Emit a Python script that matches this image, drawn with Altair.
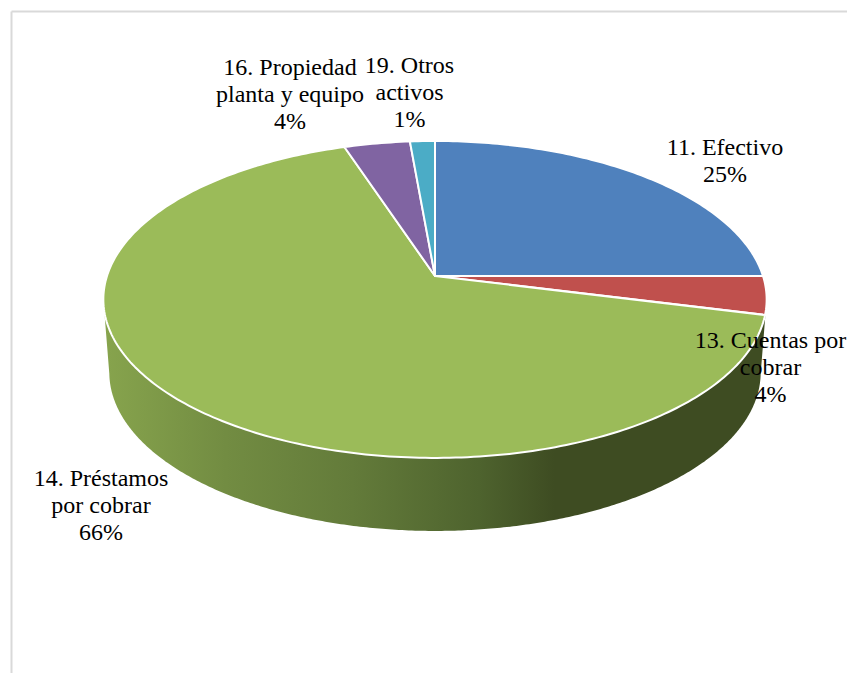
import math
import altair as alt
import pandas as pd

# Chart values
names = ["11. Efectivo", "13. Cuentas por cobrar", "14. Préstamos por cobrar",
         "16. Propiedad planta y equipo", "19. Otros activos"]
shares = [25.0, 3.9, 66.0, 3.7, 1.4]
colors = ["#4f81bd", "#c0504d", "#9bbb59", "#8064a2", "#4bacc6"]
label_lines = [["11. Efectivo"], ["13. Cuentas por", "cobrar"], ["14. Préstamos", "por cobrar"],
               ["16. Propiedad", "planta y equipo"], ["19. Otros", "activos"]]

# Perspective tilt of the pie, in unit-circle terms
K = 0.148
W, H = 839, 665
CX, CY, RX, RY = 435 - 8, 276 - 8, 328, 155
FONT = "Liberation Serif"


def project(angle):
    u, v = math.sin(angle), math.cos(angle)
    d = 1 + K * v
    return u / d, v / d


# Slice outlines derived from the shares
rows = []
start = 0.0
for name, share in zip(names, shares):
    steps = max(6, int(share * 4))
    rows.append({"slice": name, "i": 0, "x": 0.0, "y": 0.0})
    for i in range(steps + 1):
        a = 2 * math.pi * (start + share * i / steps) / sum(shares)
        px, py = project(a)
        rows.append({"slice": name, "i": i + 1, "x": px, "y": py})
    start += share
slices = pd.DataFrame(rows)

# Side wall: lower half of a shifted copy of the rim, joined to the widest rim points
rim = [project(2 * math.pi * i / 720) for i in range(720)]
rim_w = max(abs(p[0]) for p in rim)
y_mid = (max(p[1] for p in rim) + min(p[1] for p in rim)) / 2
depth = 73 / RY
squeeze = 0.982
lower = sorted(((p[0] * squeeze, p[1] - depth) for p in rim if p[1] <= y_mid), key=lambda p: p[0])
wall_pts = [(-rim_w, y_mid)] + lower + [(rim_w, y_mid)]
wall = pd.DataFrame([{"i": i, "x": p[0], "y": p[1]} for i, p in enumerate(wall_pts)])

x_enc = alt.X("x:Q", axis=None, scale=alt.Scale(domain=[-1, 1], range=[CX - RX, CX + RX]))
y_enc = alt.Y("y:Q", axis=None, scale=alt.Scale(domain=[-1, 1], range=[CY + RY, CY - RY]))

gradient = alt.LinearGradient(
    gradient="linear", x1=0, y1=0, x2=1, y2=0,
    stops=[
        alt.GradientStop(offset=0.0, color="#87a44d"),
        alt.GradientStop(offset=0.185, color="#728c42"),
        alt.GradientStop(offset=0.376, color="#637b3a"),
        alt.GradientStop(offset=0.566, color="#4e632e"),
        alt.GradientStop(offset=0.68, color="#3e4c22"),
        alt.GradientStop(offset=1.0, color="#3e4c22"),
    ],
)

wall_layer = alt.Chart(wall).mark_line(
    interpolate="linear-closed", fill=gradient, strokeWidth=0
).encode(x=x_enc, y=y_enc, order="i:Q")

slice_layer = alt.Chart(slices).mark_line(
    interpolate="linear-closed", strokeWidth=2, strokeJoin="round"
).encode(
    x=x_enc, y=y_enc, order="i:Q",
    fill=alt.Fill("slice:N", scale=alt.Scale(domain=names, range=colors), legend=None),
    stroke=alt.value("white"),
)


def frame(x, x2, y, y2):
    return alt.Chart(alt.Data(values=[{}])).mark_rule(color="#d9d9d9", strokeWidth=2).encode(
        x=alt.value(x), x2=alt.value(x2), y=alt.value(y), y2=alt.value(y2))


frames = [frame(3.5, W, 3.5, 3.5), frame(3.5, 3.5, 3.5, H)]

# (centre x, first baseline) of each label, in plot-area pixels
spots = [(717, 147), (762.5, 340), (93, 478), (282, 67), (401.5, 65)]
texts = []
for lines, share, (tx, ty) in zip(label_lines, shares, spots):
    content = lines + [f"{round(share)}%"]
    texts.append(
        alt.Chart(alt.Data(values=[{}])).mark_text(
            text=content, font=FONT, fontSize=24, lineHeight=27.2, color="black",
            align="center", baseline="alphabetic",
        ).encode(x=alt.value(tx), y=alt.value(ty))
    )

chart = alt.layer(*frames, wall_layer, slice_layer, *texts).properties(
    width=W, height=H, padding=0, background="white",
    autosize=alt.AutoSizeParams(type="none"),
).configure_view(stroke=None)

chart.save("out.html", embed_options={"renderer": "svg", "actions": False})
